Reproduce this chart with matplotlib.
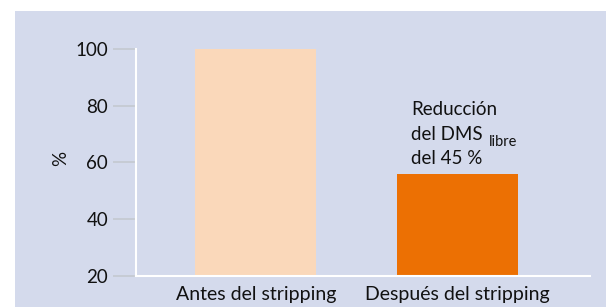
import matplotlib
matplotlib.use("Agg")
from matplotlib import pyplot as plt
from matplotlib.patches import Rectangle

# data
categories = ["Antes del stripping", "Después del stripping"]
values = [100, 56]
bar_colors = ["#FAD8BA", "#EC7003"]
yticks = [20, 40, 60, 80, 100]

bg = "#D4DAEC"
W, H = 606, 307

plt.rcParams['font.family'] = ['Lato', 'DejaVu Sans']

fig = plt.figure(figsize=(W / 100, H / 100), dpi=100)
fig.patch.set_facecolor("white")
panel = Rectangle((15 / W, 0), 1 - 15 / W, 1 - 11 / H,
                  transform=fig.transFigure, facecolor=bg,
                  edgecolor="none", zorder=-5)
fig.add_artist(panel)

ax = fig.add_axes([136 / W, 31 / H, 454 / W, 227 / H])
ax.set_facecolor("none")
ax.bar(range(len(values)), values, width=0.6, color=bar_colors, zorder=2)

ax.set_xlim(-0.595, 1.658)
ax.set_ylim(20, 100)
ax.set_yticks(yticks)
ax.set_xticks(range(len(categories)))
ax.set_xticklabels(categories, fontsize=14, color="#111111")
ax.tick_params(axis="x", length=0, pad=7.5)
ax.tick_params(axis="y", length=16.5, width=1.2, color="#C4C8D0",
               pad=3.5, labelsize=13.5, labelcolor="#111111")

for side in ("top", "right"):
    ax.spines[side].set_visible(False)
for side in ("left", "bottom"):
    ax.spines[side].set_color("white")
    ax.spines[side].set_linewidth(1.5)

fig.text(61 / W, 1 - 158 / H, "%", rotation=90, ha="center", va="center",
         fontsize=13.5, color="#111111")

# annotation over the second bar
x0 = 411 / W
fig.text(x0, 1 - 115 / H, "Reducción", fontsize=13.5, va="baseline", color="#111111")
fig.text(x0, 1 - 140 / H, "del DMS", fontsize=13.5, va="baseline", color="#111111")
fig.text(489 / W, 1 - 146 / H, "libre", fontsize=10.5, va="baseline", color="#111111")
fig.text(x0, 1 - 164 / H, "del 45 %", fontsize=13.5, va="baseline", color="#111111")

fig.savefig("out.png", dpi=100, facecolor=fig.get_facecolor())
